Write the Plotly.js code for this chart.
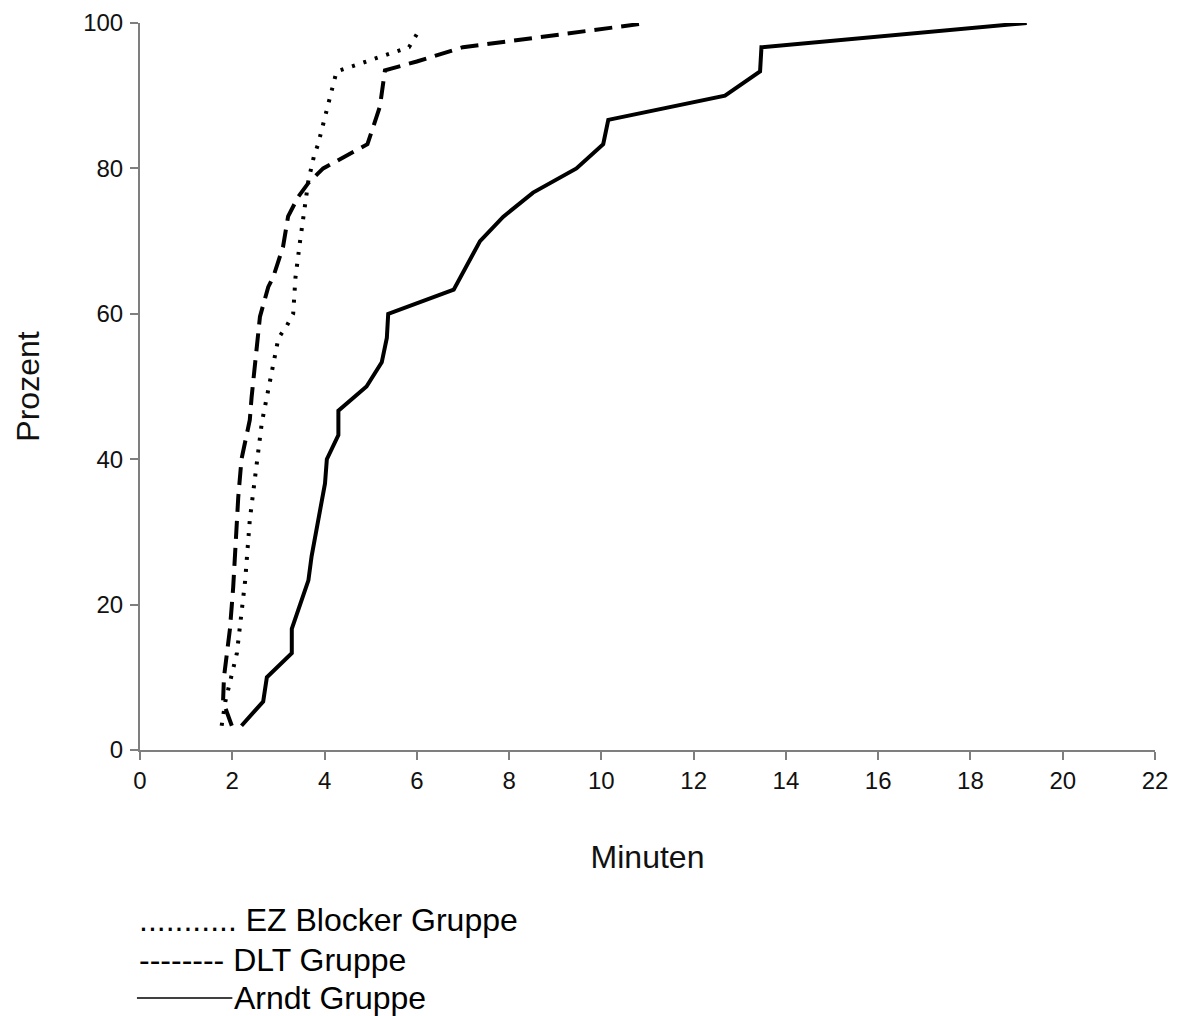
<!DOCTYPE html>
<html>
<head>
<meta charset="utf-8">
<script src="https://cdn.plot.ly/plotly-3.0.1.min.js"></script>
<style>
  html, body { margin: 0; padding: 0; background: #fff; }
  #chart { width: 1188px; height: 1016px; }
</style>
</head>
<body>
<div id="chart"></div>
<script>
// EZ Blocker Gruppe (dotted)
const ezMinutes = [1.77, 1.85, 2.1, 2.28, 2.38, 2.53, 2.64, 3.0, 3.18, 3.32, 3.37, 3.47, 3.58, 3.65, 3.77, 3.86, 4.26, 5.83, 6.05];
const ezPercent = [3.33, 6.67, 13.33, 23.33, 31.67, 40, 45, 56.67, 58.33, 60, 65, 70, 75, 78.33, 81.67, 83.33, 93.33, 96.67, 99];

// DLT Gruppe (dashed)
const dltMinutes = [1.99, 1.8, 1.82, 1.95, 2.02, 2.13, 2.2, 2.38, 2.42, 2.53, 2.6, 2.78, 2.89, 3.1, 3.21, 3.43, 3.65, 3.97, 4.62, 4.93, 5.2, 5.31, 6.0, 7.0, 11.0];
const dltPercent = [3.33, 6.67, 10, 16.67, 22.4, 34.8, 40, 45.4, 48.6, 55.4, 59.6, 63.7, 65.1, 69.2, 73.4, 76.1, 78, 80, 82.3, 83.33, 88.5, 93.5, 94.7, 96.67, 100];

// Arndt Gruppe (solid)
const arndtMinutes = [2.2, 2.67, 2.75, 3.29, 3.29, 3.65, 3.72, 4.01, 4.05, 4.3, 4.3, 4.91, 5.24, 5.35, 5.38, 6.8, 7.37, 7.87, 8.52, 9.46, 10.04, 10.15, 12.68, 13.44, 13.47, 19.22];
const arndtPercent = [3.33, 6.67, 10, 13.33, 16.67, 23.33, 26.67, 36.67, 40, 43.33, 46.67, 50, 53.33, 56.67, 60, 63.33, 70, 73.33, 76.67, 80, 83.33, 86.67, 90, 93.33, 96.67, 100];

const xTicks = [0, 2, 4, 6, 8, 10, 12, 14, 16, 18, 20, 22];
const yTicks = [0, 20, 40, 60, 80, 100];

const legendLabels = ["........... EZ Blocker Gruppe", "-------- DLT Gruppe", "Arndt Gruppe"];

const FONT = "Liberation Sans, Arial, Helvetica, sans-serif";

const traces = [
  { x: ezMinutes, y: ezPercent, name: "EZ Blocker Gruppe", mode: "lines",
    line: { color: "#000", width: 4, dash: "3px,9px" } },
  { x: dltMinutes, y: dltPercent, name: "DLT Gruppe", mode: "lines",
    line: { color: "#000", width: 4, dash: "18px,9px" } },
  { x: arndtMinutes, y: arndtPercent, name: "Arndt Gruppe", mode: "lines",
    line: { color: "#000", width: 4 } }
];

const layout = {
  width: 1188, height: 1016,
  margin: { l: 140, r: 33, t: 23, b: 266 },
  paper_bgcolor: "#fff", plot_bgcolor: "#fff",
  showlegend: false,
  font: { family: FONT, color: "#111" },
  xaxis: {
    range: [0, 22], tickvals: xTicks, ticktext: xTicks.map(String),
    showgrid: false, zeroline: false,
    showline: true, linecolor: "#7f7f7f", linewidth: 2,
    ticks: "outside", ticklen: 8, tickwidth: 2, tickcolor: "#7f7f7f",
    tickfont: { family: FONT, size: 24, color: "#111" },
    title: { text: "Minuten", font: { family: FONT, size: 32, color: "#111" }, standoff: 53 }
  },
  yaxis: {
    range: [0, 100], tickvals: yTicks, ticktext: yTicks.map(String),
    showgrid: false, zeroline: false,
    showline: true, linecolor: "#7f7f7f", linewidth: 2,
    ticks: "outside", ticklen: 8, tickwidth: 2, tickcolor: "#7f7f7f",
    ticklabelstandoff: 2,
    tickfont: { family: FONT, size: 24, color: "#111" },
    title: { text: "Prozent", font: { family: FONT, size: 32, color: "#111" }, standoff: 34 }
  },
  annotations: [
    { xref: "paper", yref: "paper", x: -0.003, y: -0.234, xanchor: "left", yanchor: "middle",
      text: legendLabels[0], showarrow: false, font: { family: FONT, size: 32, color: "#000" } },
    { xref: "paper", yref: "paper", x: -0.003, y: -0.289, xanchor: "left", yanchor: "middle",
      text: legendLabels[1], showarrow: false, font: { family: FONT, size: 32, color: "#000" } },
    { xref: "paper", yref: "paper", x: 0.091, y: -0.341, xanchor: "left", yanchor: "middle",
      text: legendLabels[2], showarrow: false, font: { family: FONT, size: 32, color: "#000" } }
  ],
  shapes: [
    { type: "line", xref: "paper", yref: "paper", x0: -0.003, x1: 0.091, y0: -0.341, y1: -0.341,
      line: { color: "#000", width: 1.5 } }
  ]
};

Plotly.newPlot("chart", traces, layout, { displayModeBar: false, staticPlot: true });
</script>
</body>
</html>
